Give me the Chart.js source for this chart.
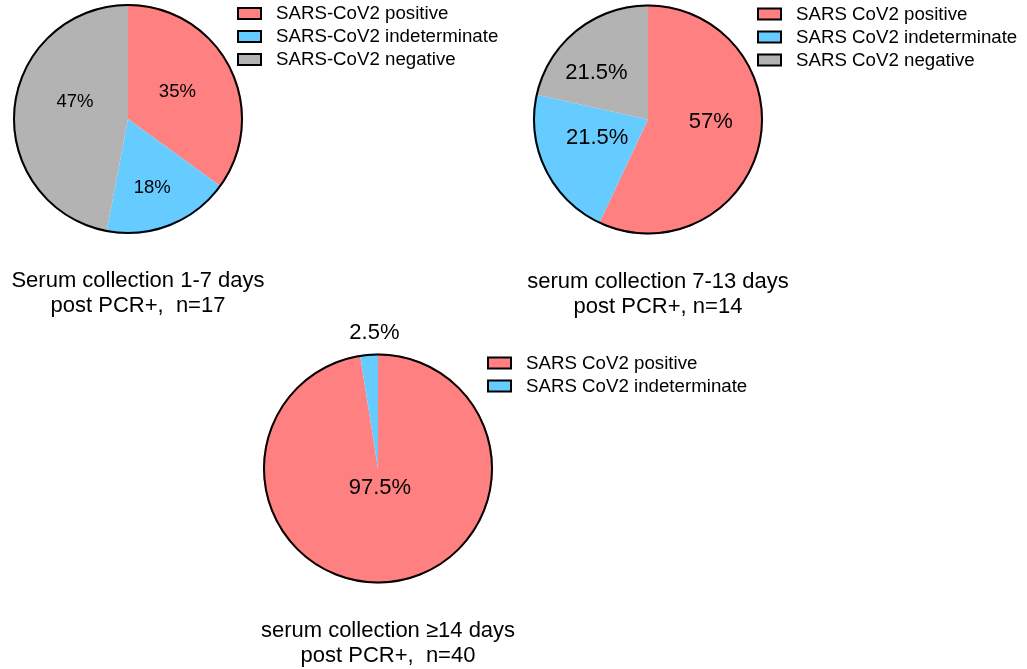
<!DOCTYPE html>
<html>
<head>
<meta charset="utf-8">
<script src="https://cdn.jsdelivr.net/npm/chart.js@4.4.1/dist/chart.umd.min.js"></script>
<style>
    html, body { margin: 0; padding: 0; background: #fff; }
    #wrap { position: relative; width: 1027px; height: 669px; overflow: hidden; }
    #wrap canvas { position: absolute; left: 0; top: 0; }
</style>
</head>
<body>
<div id="wrap">
    <canvas id="pie1" width="1027" height="669"></canvas>
    <canvas id="pie2" width="1027" height="669"></canvas>
    <canvas id="pie3" width="1027" height="669"></canvas>
</div>
<script>
// data
const labels1 = ['SARS-CoV2 positive', 'SARS-CoV2 indeterminate', 'SARS-CoV2 negative'];
const values1 = [35, 18, 47];
const title1 = ['Serum collection 1-7 days', 'post PCR+,  n=17'];

const labels2 = ['SARS CoV2 positive', 'SARS CoV2 indeterminate', 'SARS CoV2 negative'];
const values2 = [57, 21.5, 21.5];
const title2 = ['serum collection 7-13 days', 'post PCR+, n=14'];

const labels3 = ['SARS CoV2 positive', 'SARS CoV2 indeterminate'];
const values3 = [97.5, 2.5];
const title3 = ['serum collection \u226514 days', 'post PCR+,  n=40'];

const colors = ['#ff8080', '#66ccff', '#b3b3b3'];
const FONT = '"Liberation Sans", Arial, Helvetica, sans-serif';
const W = 1027, H = 669, R = 115;

// draws outline, % labels, legend and caption for each pie
const pieExtras = {
    id: 'pieExtras',
    afterDatasetsDraw(chart, args, opts) {
        const ctx = chart.ctx;
        const meta = chart.getDatasetMeta(0);
        const arcs = meta.data;
        const x = arcs[0].x, y = arcs[0].y, r = arcs[0].outerRadius;
        const vals = chart.data.datasets[0].data;
        const cols = chart.data.datasets[0].backgroundColor;

        ctx.save();
        // outer ring
        ctx.beginPath();
        ctx.arc(x, y, r - 1, 0, Math.PI * 2);
        ctx.lineWidth = 2;
        ctx.strokeStyle = '#000';
        ctx.stroke();

        // percentage labels
        ctx.fillStyle = '#000';
        ctx.textAlign = 'center';
        ctx.textBaseline = 'middle';
        ctx.font = opts.labelSize + 'px ' + FONT;
        arcs.forEach(function (a, i) {
            const mid = (a.startAngle + a.endAngle) / 2;
            const f = opts.labelFrac[i];
            const n = opts.labelNudge[i];
            ctx.fillText(vals[i] + '%', x + Math.cos(mid) * r * f + n[0], y + Math.sin(mid) * r * f + n[1]);
        });

        // legend
        ctx.font = '18.7px ' + FONT;
        ctx.textAlign = 'left';
        const lx = x + 110, ly = y - 111;
        chart.data.labels.forEach(function (lab, i) {
            const by = ly + i * 23;
            ctx.fillStyle = cols[i];
            ctx.fillRect(lx, by, 23, 11);
            ctx.lineWidth = 2;
            ctx.strokeStyle = '#000';
            ctx.strokeRect(lx, by, 23, 11);
            ctx.fillStyle = '#000';
            ctx.fillText(lab, lx + 38, by + 6);
        });

        // caption under the pie
        ctx.font = '22px ' + FONT;
        ctx.textAlign = 'center';
        opts.caption.forEach(function (line, i) {
            ctx.fillText(line, x + 10, y + 162 + i * 25);
        });
        ctx.restore();
    }
};

function makePie(id, labels, values, caption, cx, cy, extra) {
    return new Chart(document.getElementById(id), {
        type: 'pie',
        data: {
            labels: labels,
            datasets: [{
                data: values,
                backgroundColor: colors.slice(0, values.length),
                borderWidth: 0
            }]
        },
        options: {
            responsive: false,
            animation: false,
            events: [],
            layout: {
                padding: { left: cx - R, top: cy - R, right: W - cx - R, bottom: H - cy - R }
            },
            plugins: {
                legend: { display: false },
                tooltip: { enabled: false },
                pieExtras: Object.assign({ caption: caption }, extra)
            }
        },
        plugins: [pieExtras]
    });
}

makePie('pie1', labels1, values1, title1, 128, 119, {
    labelSize: 18.5,
    labelFrac: [0.55, 0.55, 0.55],
    labelNudge: [[-7, 2], [1, 10], [10, -11]]
});
makePie('pie2', labels2, values2, title2, 648, 119.5, {
    labelSize: 22,
    labelFrac: [0.55, 0.55, 0.55],
    labelNudge: [[1, -11], [6, -9], [-12, 3]]
});
makePie('pie3', labels3, values3, title3, 378, 468.5, {
    labelSize: 22,
    labelFrac: [0.55, 1.17],
    labelNudge: [[-3, -44], [7, -1]]
});
</script>
</body>
</html>
